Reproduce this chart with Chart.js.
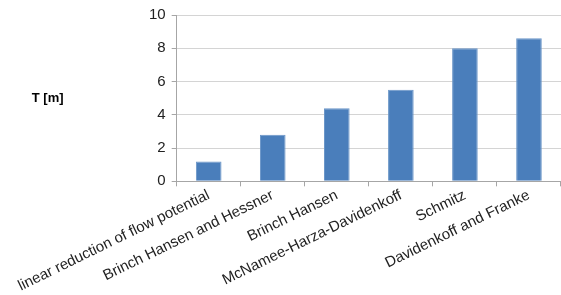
<!DOCTYPE html>
<html lang="en">
<head>
    <meta charset="UTF-8">
    <title>T [m] by method</title>
    <style>
        body {
            margin: 0;
            background: #ffffff;
        }
        #wrap {
            width: 561px;
            height: 295px;
            position: relative;
        }
    </style>
    <script src="https://cdn.jsdelivr.net/npm/chart.js"></script>
</head>
<body>
<div id="wrap">
    <canvas id="barChart"></canvas>
</div>
<script>
    const methods = [
        'linear reduction of flow potential',
        'Brinch Hansen and Hessner',
        'Brinch Hansen',
        'McNamee-Harza-Davidenkoff',
        'Schmitz',
        'Davidenkoff and Franke'
    ];
    const depthValues = [1.2, 2.8, 4.4, 5.5, 8.0, 8.6];
    const yTicks = [0, 2, 4, 6, 8, 10];
    const yLabel = 'T [m]';

    // horizontal axis label on the left, like the original
    const sideLabel = {
        id: 'sideLabel',
        afterDraw(chart) {
            const ctx = chart.ctx;
            const area = chart.chartArea;
            ctx.save();
            ctx.font = 'bold 13px Arial, "Liberation Sans", sans-serif';
            ctx.fillStyle = '#000000';
            ctx.textAlign = 'center';
            ctx.textBaseline = 'middle';
            ctx.fillText(yLabel, area.left - 129, (area.top + area.bottom) / 2);
            ctx.restore();
        }
    };

    const ctxBar = document.getElementById('barChart').getContext('2d');
    const barChart = new Chart(ctxBar, {
        type: 'bar',
        data: {
            labels: methods,
            datasets: [{
                label: yLabel,
                data: depthValues,
                backgroundColor: '#4a7ebb',
                borderColor: '#6b96c8',
                borderWidth: 1,
                categoryPercentage: 1.0,
                barPercentage: 0.4
            }]
        },
        options: {
            responsive: true,
            maintainAspectRatio: false,
            animation: false,
            layout: {
                padding: { left: 143, top: 8, right: -11, bottom: 0 }
            },
            plugins: {
                legend: { display: false },
                tooltip: { enabled: false }
            },
            scales: {
                x: {
                    grid: {
                        offset: true,
                        drawOnChartArea: false,
                        drawTicks: true,
                        tickLength: 5,
                        color: '#a6a6a6'
                    },
                    border: { display: true, color: '#a6a6a6' },
                    ticks: {
                        minRotation: 26,
                        maxRotation: 26,
                        autoSkip: false,
                        color: '#222222',
                        padding: 0,
                        font: { family: 'Arial, "Liberation Sans", sans-serif', size: 15 }
                    }
                },
                y: {
                    min: 0,
                    max: 10,
                    afterBuildTicks(scale) {
                        scale.ticks = yTicks.map(v => ({ value: v }));
                    },
                    grid: {
                        color: '#d4d4d4',
                        tickLength: 5,
                        tickColor: '#a6a6a6'
                    },
                    border: { display: true, color: '#a6a6a6' },
                    ticks: {
                        color: '#222222',
                        padding: 6,
                        font: { family: 'Arial, "Liberation Sans", sans-serif', size: 15 }
                    }
                }
            }
        },
        plugins: [sideLabel]
    });
</script>
</body>
</html>
